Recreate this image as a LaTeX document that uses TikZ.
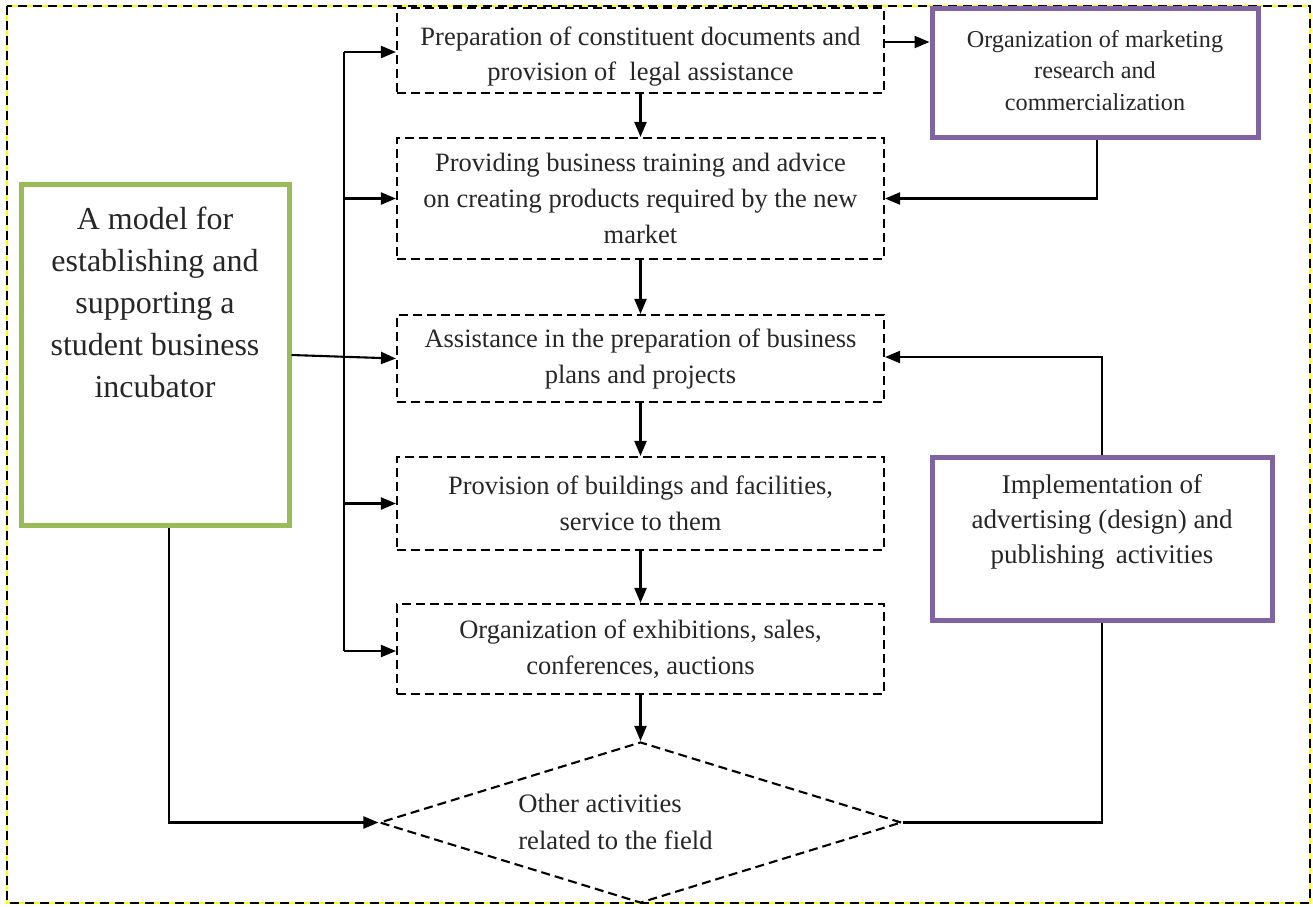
\documentclass[tikz,border=0pt]{standalone}
\usepackage{fontspec}
\setmainfont{Liberation Serif}
\usetikzlibrary{arrows.meta,shapes.geometric,calc}
\definecolor{txt}{HTML}{262626}
\definecolor{grn}{HTML}{9BBB59}
\definecolor{prp}{HTML}{8064A2}
\definecolor{frameyel}{HTML}{FFFF00}
\tikzset{
  dbox/.style={draw=black, line width=2.1pt, dash pattern=on 9pt off 5pt, minimum width=487pt, inner sep=0pt, text=txt, align=center, font=\fontsize{26.5}{36}\selectfont},
  gbox/.style={draw=grn, line width=5pt, inner sep=0pt},
  pbox/.style={draw=prp, line width=5pt, inner sep=0pt},
  lbl/.style={text=txt, align=center, inner sep=0pt},
  conn/.style={line width=2.1pt, -{Triangle[length=15pt,width=12pt]}},
  plain/.style={line width=2.1pt},
}
\begin{document}
\begin{tikzpicture}[x=1pt,y=-1pt]
\useasboundingbox (0,0) rectangle (1313,906);
% outer frame
\draw[frameyel, line width=2pt] (7,6) rectangle (1310,903);
\draw[black, line width=2pt, dash pattern=on 9pt off 6pt] (7,6) rectangle (1310,903);
% dashed boxes
\node[dbox, minimum height=85pt] (b1) at (640.5,50.5) {};
\node[lbl, font=\fontsize{26.5}{35}\selectfont] (b1t) at (640.5,57) {Preparation of constituent documents and\\provision of\ \ legal assistance};
\node[dbox, minimum height=121pt] (b2) at (640.5,198.5) {Providing business training and advice\\on creating products required by the new\\market};
\node[dbox, minimum height=87pt] (b3) at (640.5,358.5) {Assistance in the preparation of business\\plans and projects};
\node[dbox, minimum height=93pt] (b4) at (640.5,503.5) {Provision of buildings and facilities,\\service to them};
\node[dbox, minimum height=90pt] (b5) at (640.5,649) {Organization of exhibitions, sales,\\conferences, auctions};
% diamond
\node[draw=black, line width=2.1pt, dash pattern=on 9pt off 5pt, diamond, minimum width=522pt, minimum height=161pt, inner sep=0pt] (dia) at (640.5,822.5) {};
\node[lbl, align=left, font=\fontsize{26.6}{37}\selectfont] (diat) at (615.5,822) {Other activities\\related to the field};
% green box
\node[gbox, minimum width=268pt, minimum height=341pt] (g) at (155,354.5) {};
\node[lbl, font=\fontsize{32}{42}\selectfont] (gt) at (155,302) {A model for\\establishing and\\supporting a\\student business\\incubator};
% purple boxes
\node[pbox, minimum width=326pt, minimum height=129pt] (p1) at (1095,72.5) {};
\node[lbl, font=\fontsize{24.2}{31.5}\selectfont] (p1t) at (1095,70.5) {Organization of marketing\\research and\\commercialization};
\node[pbox, minimum width=340pt, minimum height=163pt] (p2) at (1102,538.5) {};
\node[lbl, font=\fontsize{27}{35}\selectfont] (p2t) at (1102,522) {Implementation of\\advertising (design) and\\publishing\ \,activities};
% bus
\coordinate (bustop) at (344,52);
\coordinate (busbot) at (344,651);
\draw[plain] (bustop) -- (busbot);
\draw[conn] (bustop) -- (bustop -| b1.west);
\draw[conn] (b2.west -| bustop) -- (b2.west);
\draw[conn] (b4.west -| bustop) -- (b4.west);
\draw[conn] (busbot) -- (busbot -| b5.west);
\draw[conn] (g.east |- 0,355) -- (b3.west);
% vertical chain
\draw[conn] (b1.south) -- (b2.north);
\draw[conn] (b2.south) -- (b3.north);
\draw[conn] (b3.south) -- (b4.north);
\draw[conn] (b4.south) -- (b5.north);
\draw[conn] (b5.south) -- (dia.north);
% right side
\draw[conn] ([yshift=8.5pt]b1.east) -- ([yshift=8.5pt]b1.east -| p1.west);
\draw[conn] ([xshift=2pt]p1.south) |- (b2.east);
\draw[conn] (p2.north) |- ([yshift=1.5pt]b3.east);
\draw[plain] (dia.east) -| (p2.south);
% green to diamond
\draw[conn] ([xshift=14pt]g.south) |- (dia.west);
\end{tikzpicture}
\end{document}
